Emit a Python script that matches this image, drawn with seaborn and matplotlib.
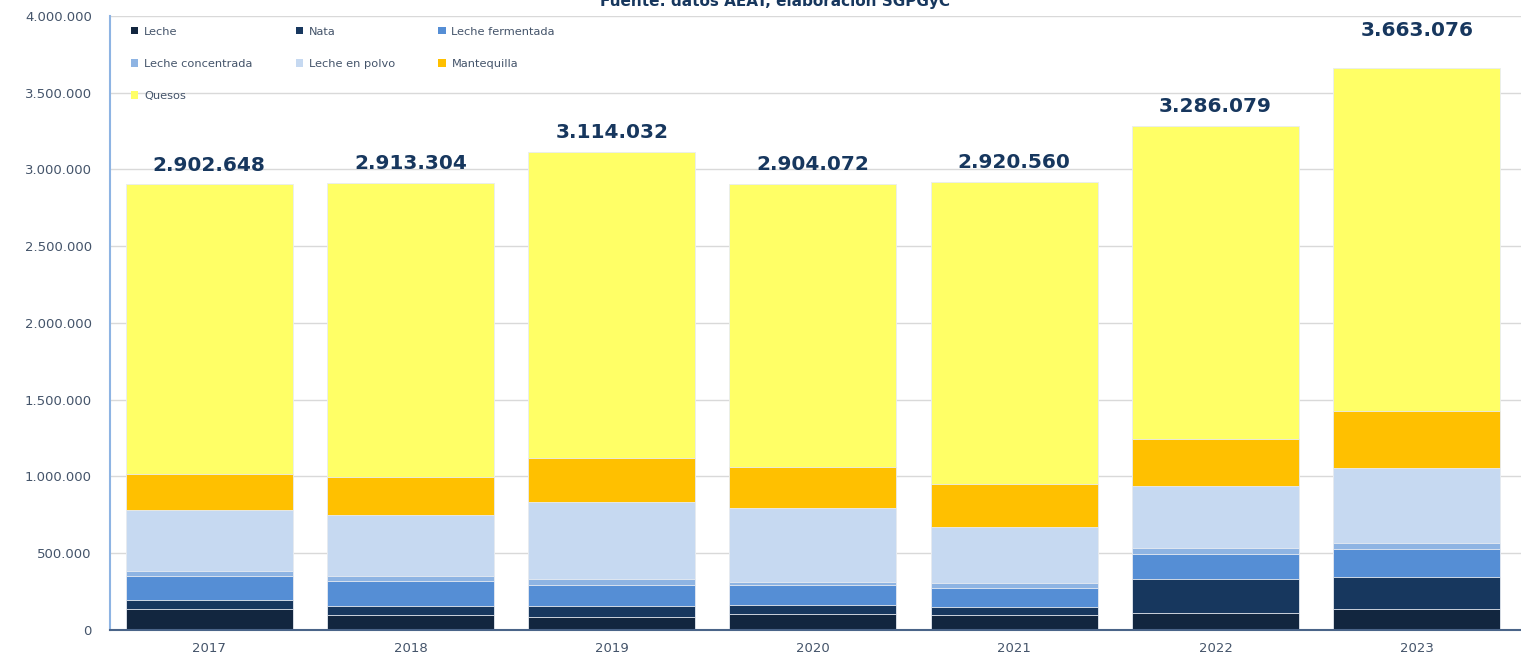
import matplotlib
matplotlib.use('Agg')
import numpy as np
import pandas as pd
import matplotlib.pyplot as plt
import seaborn as sns
from matplotlib.patches import Patch
from matplotlib.ticker import FuncFormatter, MultipleLocator

sns.set_theme(style='white')
plt.rcParams['font.family'] = ['DejaVu Sans']

# Exportaciones lácteas (toneladas) por año
years = ['2017', '2018', '2019', '2020', '2021', '2022', '2023']
leche = [135000, 95800, 86900, 102100, 95600, 108600, 139000]
nata = [58600, 62500, 71400, 62900, 56400, 221400, 206300]
leche_fermentada = [160300, 162900, 137000, 130300, 123800, 167300, 184600]
leche_concentrada = [30600, 30600, 34700, 17400, 30400, 34800, 34800]
leche_en_polvo = [399400, 397400, 501700, 479900, 367000, 406100, 488600]
mantequilla = [230600, 245400, 286700, 271400, 278000, 306200, 373500]
quesos = [1888148, 1918704, 1995632, 1840072, 1969360, 2041679, 2236276]

series = ['Leche', 'Nata', 'Leche fermentada', 'Leche concentrada',
          'Leche en polvo', 'Mantequilla', 'Quesos']
colors = ['#12263F', '#17375E', '#558ED5', '#8EB4E3', '#C6D9F1', '#FFC000', '#FFFF66']

df = pd.DataFrame({
    'Año': years,
    'Leche': leche,
    'Nata': nata,
    'Leche fermentada': leche_fermentada,
    'Leche concentrada': leche_concentrada,
    'Leche en polvo': leche_en_polvo,
    'Mantequilla': mantequilla,
    'Quesos': quesos,
})
cum = df[series].cumsum(axis=1)
totals = cum['Quesos'].values

def fmt(v):
    return f"{int(round(v)):,}".replace(',', '.')

fig = plt.figure(figsize=(15.21, 6.55), dpi=100)
ax = fig.add_axes([0.0723, 0.0382, 0.9277, 0.9374])

# stacked bars: draw cumulative layers from top to bottom
for name, col in reversed(list(zip(series, colors))):
    sns.barplot(x=df['Año'], y=cum[name], color=col, saturation=1, width=0.83,
                edgecolor='#E8ECF2', linewidth=0.6, errorbar=None, ax=ax)

for i, t in enumerate(totals):
    off = 23 if i == len(totals) - 1 else 10
    ax.annotate(fmt(t), (i, t), xytext=(0, off), textcoords='offset points',
                ha='center', va='baseline', fontsize=14.5, fontweight='bold', color='#17375E')

ax.set_xlim(-0.493, 6.518)
ax.set_ylim(0, 4000000)
ax.yaxis.set_major_locator(MultipleLocator(500000))
ax.yaxis.set_major_formatter(FuncFormatter(lambda v, p: fmt(v)))
ax.yaxis.grid(True, color='#D9D9D9', linewidth=1)
ax.set_axisbelow(True)
ax.set_xlabel('')
ax.set_ylabel('')
for s in ['top', 'right']:
    ax.spines[s].set_visible(False)
ax.spines['left'].set_color('#8EB4E3')
ax.spines['left'].set_linewidth(1.5)
ax.spines['bottom'].set_color('#4A6488')
ax.spines['bottom'].set_linewidth(1.5)
ax.tick_params(axis='y', length=0, pad=13, labelsize=9.5, labelcolor='#44546A')
ax.tick_params(axis='x', length=0, pad=9, labelsize=9.5, labelcolor='#44546A')

# legend in row-major order like the original
order = [0, 3, 6, 1, 4, 2, 5]
handles = [Patch(facecolor=colors[k], edgecolor='none') for k in order]
labels = [series[k] for k in order]
ax.legend(handles, labels, ncol=3, loc='upper left', bbox_to_anchor=(0.0861, 0.9595),
          bbox_transform=fig.transFigure, frameon=False, fontsize=8.2,
          handlelength=0.65, handleheight=0.65, handletextpad=0.5, columnspacing=3.8,
          labelspacing=1.95, borderpad=0, borderaxespad=0, labelcolor='#44546A')

fig.text(0.5095, 1 - 6 / 655, 'Fuente: datos AEAT, elaboración SGPGyC', ha='center',
         va='baseline', fontsize=11, fontweight='bold', color='#17375E')

fig.savefig('out.png', dpi=100)
